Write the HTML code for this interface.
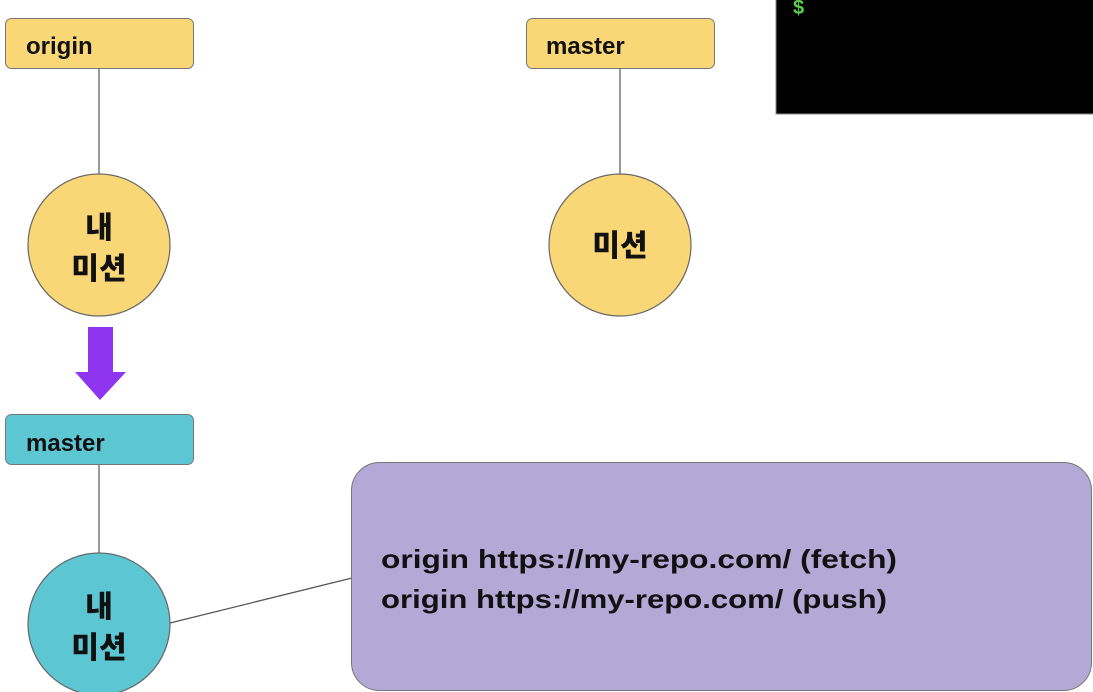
<!DOCTYPE html>
<html><head><meta charset="utf-8"><style>
html,body{margin:0;padding:0;background:#fff;width:1093px;height:692px;overflow:hidden}
svg text{font-family:"Liberation Sans","Noto Sans CJK KR",sans-serif;font-weight:bold;fill:#111}
svg text.k{font-family:"Noto Sans CJK KR",sans-serif;font-weight:900}
</style></head><body>
<svg width="1093" height="692" viewBox="0 0 1093 692" xmlns="http://www.w3.org/2000/svg">
<rect x="0" y="0" width="1093" height="692" fill="#fff"/>
<rect x="776" y="-2" width="320" height="116" fill="#000" stroke="#888" stroke-width="1"/>
<text x="793" y="14" font-size="20" style="fill:#5ccf4a">$</text>
<line x1="99" y1="69" x2="99" y2="178" stroke="#777" stroke-width="1.5"/>
<rect x="5.5" y="18.5" width="188" height="50" rx="6" fill="#fad776" stroke="#777"/>
<text x="26" y="54" font-size="24">origin</text>
<circle cx="99" cy="245" r="71" fill="#fad776" stroke="#666" stroke-width="1.2"/>
<text class="k" x="99" y="238" font-size="30" text-anchor="middle">내</text>
<text class="k" x="99" y="279" font-size="30" text-anchor="middle">미션</text>
<polygon points="88,327 113,327 113,372 126,372 100,400 75,372 88,372" fill="#8f35f0"/>
<line x1="99" y1="465" x2="99" y2="556" stroke="#777" stroke-width="1.5"/>
<rect x="5.5" y="414.5" width="188" height="50" rx="6" fill="#5cc6d2" stroke="#777"/>
<text x="26" y="451" font-size="24">master</text>
<line x1="170" y1="623" x2="352" y2="578" stroke="#555" stroke-width="1.3"/>
<circle cx="99" cy="624" r="71" fill="#5cc6d2" stroke="#666" stroke-width="1.2"/>
<text class="k" x="99" y="617" font-size="30" text-anchor="middle">내</text>
<text class="k" x="99" y="658" font-size="30" text-anchor="middle">미션</text>
<line x1="620" y1="69" x2="620" y2="178" stroke="#777" stroke-width="1.5"/>
<rect x="526.5" y="18.5" width="188" height="50" rx="6" fill="#fad776" stroke="#777"/>
<text x="546" y="54" font-size="24">master</text>
<circle cx="620" cy="245" r="71" fill="#fad776" stroke="#666" stroke-width="1.2"/>
<text class="k" x="620" y="256" font-size="30" text-anchor="middle">미션</text>
<rect x="351.5" y="462.5" width="740" height="228" rx="28" fill="#b2a9d6" stroke="#777"/>
<text x="381" y="568" font-size="26" textLength="516" lengthAdjust="spacingAndGlyphs">origin https://my-repo.com/ (fetch)</text>
<text x="381" y="608" font-size="26" textLength="506" lengthAdjust="spacingAndGlyphs">origin https://my-repo.com/ (push)</text>
</svg>
</body></html>
